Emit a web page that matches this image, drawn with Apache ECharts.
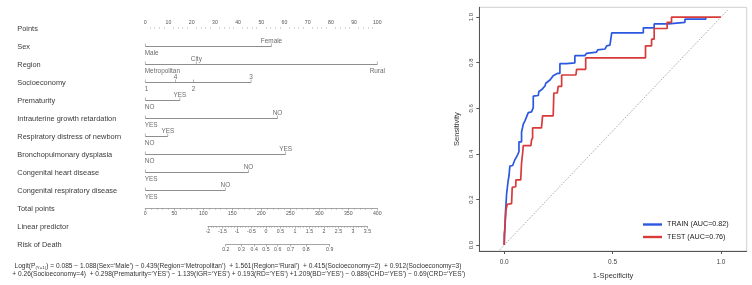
<!DOCTYPE html>
<html>
<head>
<meta charset="utf-8">
<script src="https://cdn.jsdelivr.net/npm/echarts@6/dist/echarts.min.js"></script>
<style>
  html, body { margin: 0; padding: 0; background: #fff; }
  #chart { width: 752px; height: 285px; }
</style>
</head>
<body>
<div id="chart"></div>
<script>
// nomogram rows
const rowNames = ['Points', 'Sex', 'Region', 'Socioeconomy', 'Prematurity', 'Intrauterine growth retardation',
  'Respiratory distress of newborn', 'Bronchopulmonary dysplasia', 'Congenital heart disease',
  'Congenital respiratory disease', 'Total points', 'Linear predictor', 'Risk of Death'];

const sexLevels = ['Male', 'Female'];
const sexPoints = [0, 54.4];
const regionLevels = ['Metropolitan', 'City', 'Rural'];
const regionPoints = [0, 22, 100];
const socioLevels = ['1', '4', '2', '3'];
const socioPoints = [0, 13, 20.8, 45.6];
const prematurityLevels = ['NO', 'YES'];
const prematurityPoints = [0, 14.9];
const igrLevels = ['YES', 'NO'];
const igrPoints = [0, 57];
const rdLevels = ['NO', 'YES'];
const rdPoints = [0, 9.7];
const bdLevels = ['NO', 'YES'];
const bdPoints = [0, 60.5];
const chdLevels = ['YES', 'NO'];
const chdPoints = [0, 44.5];
const crdLevels = ['YES', 'NO'];
const crdPoints = [0, 34.5];

const pointsRange = [0, 100];
const totalRange = [0, 400];
const lpRange = [-2, 3.5];
const riskTicks = [0.2, 0.3, 0.4, 0.5, 0.6, 0.7, 0.8, 0.9];
const lpAtZeroPoints = -4.16;   // linear predictor at 0 total points
const pointsPerLpUnit = 50;

const formulaLines = [
  'Logit(P{sub|(Y=1)}) = 0.085 \u2212 1.088(Sex=\u2018Male\u2019) \u2212 0.439(Region=\u2018Metropolitan\u2019)  + 1.561(Region=\u2018Rural\u2019)  + 0.415(Socioeconomy=2)  + 0.912(Socioeconomy=3)',
  ' + 0.26(Socioeconomy=4)  + 0.298(Prematurity=\u2018YES\u2019) \u2212 1.139(IGR=\u2018YES\u2019) + 0.193(RD=\u2018YES\u2019) +1.209(BD=\u2018YES\u2019) \u2212 0.889(CHD=\u2018YES\u2019) \u2212 0.69(CRD=\u2018YES\u2019)'
];

// ROC curves (1-specificity, sensitivity)
const trainName = 'TRAIN (AUC=0.82)';
const trainFpr = [0, 0.002, 0.006, 0.011, 0.018, 0.022, 0.026, 0.039, 0.049, 0.062, 0.068, 0.068, 0.080, 0.080, 0.085, 0.088, 0.096, 0.111, 0.126, 0.134, 0.134, 0.157, 0.160, 0.172, 0.188, 0.192, 0.211, 0.226, 0.245, 0.257, 0.257, 0.288, 0.326, 0.326, 0.372, 0.380, 0.426, 0.431, 0.465, 0.473, 0.488, 0.496, 0.642, 0.642, 0.692, 0.692, 0.757, 0.757, 0.834, 0.834, 0.930, 0.930];
const trainTpr = [0, 0.050, 0.146, 0.224, 0.281, 0.303, 0.346, 0.349, 0.374, 0.396, 0.410, 0.453, 0.453, 0.496, 0.517, 0.531, 0.546, 0.581, 0.584, 0.603, 0.653, 0.656, 0.674, 0.681, 0.698, 0.710, 0.724, 0.743, 0.753, 0.753, 0.796, 0.796, 0.799, 0.831, 0.831, 0.841, 0.846, 0.856, 0.860, 0.874, 0.877, 0.931, 0.931, 0.953, 0.953, 0.970, 0.970, 0.977, 0.977, 0.991, 0.991, 1.0];
const testName = 'TEST (AUC=0.76)';
const testFpr = [0, 0, 0.003, 0.008, 0.014, 0.014, 0.034, 0.037, 0.053, 0.054, 0.076, 0.080, 0.085, 0.088, 0.123, 0.126, 0.131, 0.131, 0.172, 0.177, 0.226, 0.229, 0.245, 0.249, 0.265, 0.265, 0.331, 0.334, 0.376, 0.376, 0.652, 0.652, 0.680, 0.680, 0.692, 0.692, 0.752, 0.752, 0.772, 0.772, 1.0];
const testTpr = [0, 0.046, 0.075, 0.153, 0.157, 0.179, 0.182, 0.253, 0.256, 0.286, 0.286, 0.360, 0.403, 0.436, 0.436, 0.460, 0.470, 0.514, 0.514, 0.567, 0.567, 0.667, 0.667, 0.696, 0.696, 0.746, 0.746, 0.771, 0.771, 0.821, 0.821, 0.874, 0.874, 0.903, 0.903, 0.950, 0.950, 0.977, 0.977, 1.0, 1.0];
const diagonalEnds = [-0.03, 1.03];
const rocXTicks = [0, 0.5, 1];
const rocYTicks = [0, 0.2, 0.4, 0.6, 0.8, 1];

const FONT = 'Liberation Sans, Arial, sans-serif';
const GREY = '#8e8e8e';
const NOMO_LEFT = 145.3, NOMO_WIDTH = 232;
const ROW_TOP = 28.5, ROW_STEP = 18;

const logit = p => Math.log(p / (1 - p));
const lpToTotal = lp => (lp - lpAtZeroPoints) * pointsPerLpUnit;
const totalToPx = t => NOMO_LEFT + (t - totalRange[0]) / (totalRange[1] - totalRange[0]) * NOMO_WIDTH;
const rowY = name => ROW_TOP + rowNames.indexOf(name) * ROW_STEP;

const chart = echarts.init(document.getElementById('chart'), null, { renderer: 'canvas' });

const variables = [
  { row: 'Sex', levels: sexLevels, points: sexPoints },
  { row: 'Region', levels: regionLevels, points: regionPoints },
  { row: 'Socioeconomy', levels: socioLevels, points: socioPoints },
  { row: 'Prematurity', levels: prematurityLevels, points: prematurityPoints },
  { row: 'Intrauterine growth retardation', levels: igrLevels, points: igrPoints },
  { row: 'Respiratory distress of newborn', levels: rdLevels, points: rdPoints },
  { row: 'Bronchopulmonary dysplasia', levels: bdLevels, points: bdPoints },
  { row: 'Congenital heart disease', levels: chdLevels, points: chdPoints },
  { row: 'Congenital respiratory disease', levels: crdLevels, points: crdPoints }
];

const series = [];
variables.forEach(v => {
  const lo = Math.min(...v.points), hi = Math.max(...v.points);
  series.push({
    type: 'line', xAxisIndex: 0, yAxisIndex: 0, silent: true, symbol: 'none',
    data: [[lo, v.row], [hi, v.row]],
    lineStyle: { color: GREY, width: 1 }
  });
  // labels alternate below / above in order of points
  const order = v.points.map((p, i) => i).sort((a, b) => v.points[a] - v.points[b]);
  series.push({
    type: 'scatter', xAxisIndex: 0, yAxisIndex: 0, silent: true,
    symbol: 'rect', symbolSize: [0.8, 3], symbolOffset: [0, -1.5],
    itemStyle: { color: GREY },
    label: { show: true, position: 'inside', fontSize: 6.4, color: '#444', fontFamily: FONT },
    data: order.map((i, k) => ({
      value: [v.points[i], v.row],
      label: {
        formatter: v.levels[i],
        align: v.points[i] === 0 ? 'left' : 'center',
        offset: [v.points[i] === 0 ? -0.5 : 0, k % 2 ? -3.5 : 7.8]
      }
    }))
  });
});

series.push({
  type: 'line', xAxisIndex: 4, yAxisIndex: 4, silent: true, symbol: 'none',
  data: diagonalEnds.map(d => [d, d]),
  lineStyle: { color: '#777', width: 0.8, type: [1, 1.5] }
});
series.push({
  name: trainName, type: 'line', xAxisIndex: 4, yAxisIndex: 4, symbol: 'none',
  data: trainFpr.map((x, i) => [x, trainTpr[i]]),
  lineStyle: { color: '#2b58e0', width: 1.7 }, itemStyle: { color: '#2b58e0' }
});
series.push({
  name: testName, type: 'line', xAxisIndex: 4, yAxisIndex: 4, symbol: 'none',
  data: testFpr.map((x, i) => [x, testTpr[i]]),
  lineStyle: { color: '#d83a3a', width: 1.7 }, itemStyle: { color: '#d83a3a' }
});

const scaleLabel = { fontSize: 5.2, color: '#555', fontFamily: FONT, margin: 3 };
const scaleLine = { onZero: false, lineStyle: { color: GREY, width: 0.8 } };
const scaleTick = { length: 2, lineStyle: { color: GREY, width: 0.7 } };
const minor = { show: true, splitNumber: 5, length: 1.2, lineStyle: { color: GREY, width: 0.6 } };

const lpLeft = totalToPx(lpToTotal(lpRange[0]));
const lpRight = totalToPx(lpToTotal(lpRange[1]));
const riskLo = logit(riskTicks[0]), riskHi = logit(riskTicks[riskTicks.length - 1]);
const riskLeft = totalToPx(lpToTotal(riskLo));
const riskRight = totalToPx(lpToTotal(riskHi));

const option = {
  animation: false,
  textStyle: { fontFamily: FONT },
  title: formulaLines.map((t, i) => ({
    text: t, left: i === 0 ? 14.5 : 10.5, top: 263 + i * 7.5, padding: 0,
    textStyle: {
      fontSize: 6.6, fontWeight: 'normal', color: '#333', fontFamily: FONT,
      rich: { sub: { fontSize: 4.4, color: '#333', fontFamily: FONT, verticalAlign: 'bottom', padding: [3, 0, 0, 0] } }
    }
  })),
  legend: {
    data: [trainName, testName], orient: 'vertical', left: 643, top: 221,
    itemWidth: 19, itemHeight: 2.4, itemGap: 5.5, icon: 'rect', padding: 0,
    textStyle: { fontSize: 7.2, color: '#222', fontFamily: FONT }
  },
  grid: [
    { left: NOMO_LEFT, width: NOMO_WIDTH, top: ROW_TOP, height: ROW_STEP * 12 },
    { left: NOMO_LEFT, width: NOMO_WIDTH, top: rowY('Total points') - 1, height: 1 },
    { left: lpLeft, width: lpRight - lpLeft, top: rowY('Linear predictor') - 1, height: 1 },
    { left: riskLeft, width: riskRight - riskLeft, top: rowY('Risk of Death') - 1, height: 1 },
    { left: 479.3, top: 7.3, width: 267.4, height: 249.4, show: true, borderColor: '#cfcfcf', borderWidth: 1 }
  ],
  xAxis: [
    {
      gridIndex: 0, type: 'value', position: 'top', min: pointsRange[0], max: pointsRange[1], interval: 10,
      axisLine: scaleLine, axisTick: scaleTick, minorTick: minor, axisLabel: scaleLabel, splitLine: { show: false }
    },
    {
      gridIndex: 1, type: 'value', position: 'bottom', min: totalRange[0], max: totalRange[1], interval: 50,
      axisLine: scaleLine, axisTick: scaleTick, minorTick: minor, axisLabel: scaleLabel, splitLine: { show: false }
    },
    {
      gridIndex: 2, type: 'value', position: 'bottom', min: lpRange[0], max: lpRange[1], interval: 0.5,
      axisLine: scaleLine, axisTick: scaleTick, minorTick: minor, axisLabel: scaleLabel, splitLine: { show: false }
    },
    {
      gridIndex: 3, type: 'value', position: 'bottom', min: riskLo, max: riskHi,
      axisLine: scaleLine,
      axisTick: { ...scaleTick, customValues: riskTicks.map(logit) },
      axisLabel: { ...scaleLabel, customValues: riskTicks.map(logit), formatter: v => (1 / (1 + Math.exp(-v))).toFixed(1) },
      splitLine: { show: false }
    },
    {
      gridIndex: 4, type: 'value', min: -0.115, max: 1.119,
      axisLine: { onZero: false, lineStyle: { color: '#555', width: 1 } },
      axisTick: { customValues: rocXTicks, length: 3, lineStyle: { color: '#555' } },
      axisLabel: { customValues: rocXTicks, formatter: v => v.toFixed(1), fontSize: 6.5, color: '#444', margin: 8 },
      splitLine: { show: false },
      name: '1-Specificity', nameLocation: 'middle', nameGap: 21,
      nameTextStyle: { fontSize: 7.5, color: '#333', fontFamily: FONT }
    }
  ],
  yAxis: [
    {
      gridIndex: 0, type: 'category', data: rowNames, inverse: true, boundaryGap: false,
      axisLine: { show: false }, axisTick: { show: false }, splitLine: { show: false },
      axisLabel: { align: 'left', margin: NOMO_LEFT - 17.3, fontSize: 7.4, color: '#3a3a3a', fontFamily: FONT, padding: [0, 0, 0, 0] }
    },
    { gridIndex: 1, type: 'value', show: false, min: 0, max: 1 },
    { gridIndex: 2, type: 'value', show: false, min: 0, max: 1 },
    { gridIndex: 3, type: 'value', show: false, min: 0, max: 1 },
    {
      gridIndex: 4, type: 'value', min: -0.026, max: 1.043,
      axisLine: { show: true, onZero: false, lineStyle: { color: '#555', width: 1 } },
      axisTick: { show: true, customValues: rocYTicks, length: 3, lineStyle: { color: '#555' } },
      axisLabel: { customValues: rocYTicks, formatter: v => v.toFixed(1), rotate: 90, fontSize: 6, color: '#444', margin: 5 },
      splitLine: { show: false },
      name: 'Sensitivity', nameLocation: 'middle', nameGap: 18, nameRotate: 90,
      nameTextStyle: { fontSize: 7.5, color: '#333', fontFamily: FONT }
    }
  ],
  series: series
};

chart.setOption(option);
window.addEventListener('resize', chart.resize);
</script>
</body>
</html>
